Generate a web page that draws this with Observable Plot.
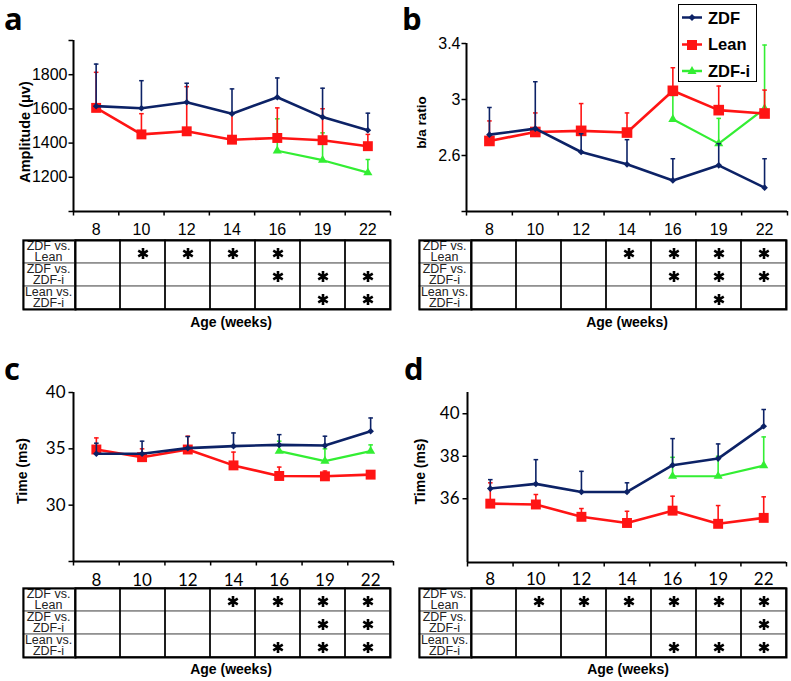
<!DOCTYPE html>
<html><head><meta charset="utf-8">
<script src="https://cdn.jsdelivr.net/npm/d3@7"></script>
<script src="https://cdn.jsdelivr.net/npm/@observablehq/plot@0.6"></script>
<style>
body{margin:0;background:#fff;}
#root{position:relative;width:791px;height:681px;overflow:hidden;background:#fff;font-family:"Liberation Sans",Arial,sans-serif;}
.abs{position:absolute;}
.letter{font-family:"Open Sans",sans-serif;font-weight:700;font-size:31px;line-height:36px;color:#000;}
.age{font-family:"Liberation Sans",Arial,sans-serif;font-weight:700;font-size:14px;color:#000;transform:translate(-50%,-50%);white-space:nowrap;}
.legend{border:1px solid #000;background:#fff;box-sizing:border-box;}
.lrow{position:absolute;left:3px;display:flex;align-items:center;font:700 16.5px "Liberation Sans",Arial,sans-serif;}
.lrow svg{margin-right:6px;}
svg{overflow:visible;}
</style>
</head><body><div id="root"></div>
<script>
// ---------- data ----------
const ages = ["8", "10", "12", "14", "16", "19", "22"];
const groups = ["ZDF", "Lean", "ZDF-i"];
const groupColors = ["#0c2266", "#ff1414", "#33ee33"];
const comparisons = ["ZDF vs.\nLean", "ZDF vs.\nZDF-i", "Lean vs.\nZDF-i"];

// panel a: amplitude (µv), mean and SD (upper error)
const aZDF = [1616, 1604, 1639, 1572, 1668, 1552, 1475];
const aZDFsd = [246, 161, 111, 145, 113, 169, 100];
const aLean = [1606, 1451, 1469, 1420, 1430, 1417, 1382];
const aLeanSd = [208, 121, 261, 152, 176, 184, 69];
const aZDFi = [null, null, null, null, 1355, 1300, 1227];
const aZDFiSd = [null, null, null, null, 187, 160, 77];
const aSig = [[0,1,1,1,1,0,0],[0,0,0,0,1,1,1],[0,0,0,0,0,1,1]];

// panel b: b/a ratio
const bZDF = [2.749, 2.792, 2.625, 2.537, 2.422, 2.530, 2.370];
const bZDFsd = [0.194, 0.335, 0.13, 0.176, 0.155, 0.155, 0.207];
const bLean = [2.704, 2.768, 2.776, 2.764, 3.062, 2.924, 2.900];
const bLeanSd = [0.143, 0.136, 0.195, 0.14, 0.165, 0.172, 0.167];
const bZDFi = [null, null, null, null, 2.859, 2.685, 2.935];
const bZDFiSd = [null, null, null, null, 0.17, 0.18, 0.454];
const bSig = [[0,0,0,1,1,1,1],[0,0,0,0,1,1,1],[0,0,0,0,0,1,0]];

// panel c: time (ms)
const cZDF = [34.56, 34.56, 35.06, 35.24, 35.35, 35.29, 36.56];
const cZDFsd = [0.94, 1.12, 1.03, 1.17, 0.91, 0.83, 1.18];
const cLean = [34.94, 34.26, 34.94, 33.53, 32.59, 32.56, 32.71];
const cLeanSd = [1.03, 0.74, 1.18, 1.18, 0.79, 0.47, 0.2];
const cZDFi = [null, null, null, null, 34.79, 33.91, 34.79];
const cZDFiSd = [null, null, null, null, 0.89, 1.09, 0.56];
const cSig = [[0,0,0,1,1,1,1],[0,0,0,0,0,1,1],[0,0,0,0,1,1,1]];

// panel d: time (ms)
const dZDF = [36.48, 36.70, 36.32, 36.32, 37.58, 37.89, 39.41];
const dZDFsd = [0.42, 1.14, 0.97, 0.43, 1.25, 0.69, 0.79];
const dLean = [35.77, 35.73, 35.15, 34.86, 35.44, 34.82, 35.10];
const dLeanSd = [0.98, 0.47, 0.39, 0.55, 0.68, 0.86, 0.99];
const dZDFi = [null, null, null, null, 37.06, 37.06, 37.56];
const dZDFiSd = [null, null, null, null, 0.89, 0.94, 1.35];
const dSig = [[0,1,1,1,1,1,1],[0,0,0,0,0,0,1],[0,0,0,0,1,1,1]];

// axis ticks
const aTicks = [1000, 1200, 1400, 1600, 1800, 2000];
const aLabeled = [1200, 1400, 1600, 1800];
const bTicks = [2.2, 2.6, 3.0, 3.4];
const bLabeled = [2.6, 3.0, 3.4];
const cTicks = [25, 30, 35, 40];
const cLabeled = [30, 35, 40];
const dTicks = [36, 38, 40];
const dLabeled = [36, 38, 40];

// ---------- helpers ----------
const root = document.getElementById("root");
function place(node, left, top) {
  node.style.position = "absolute"; node.style.left = left + "px"; node.style.top = top + "px";
  root.appendChild(node); return node;
}
function div(cls, text, left, top) {
  const d = document.createElement("div"); d.className = "abs " + cls; d.textContent = text;
  d.style.left = left + "px"; d.style.top = top + "px"; root.appendChild(d); return d;
}
const capSymbol = {draw(ctx, size) { const w = Math.sqrt(size / Math.PI); ctx.moveTo(-w, 0); ctx.lineTo(w, 0); }};
const symbols = {"ZDF": "diamond2", "Lean": "square", "ZDF-i": "triangle"};

function rowsOf(series) {
  const out = [];
  series.forEach(([g, m, s]) => m.forEach((v, i) => {
    if (v != null) out.push({group: g, age: ages[i], x: i + 0.5, mean: v, top: v + s[i]});
  }));
  return out;
}

function chart(o) {
  const rows = rowsOf(o.series);
  const fmt = v => o.labeled.some(l => Math.abs(l - v) < 1e-9) ? d3.format("~g")(v) : "";
  const marks = [];
  marks.push(Plot.ruleY([o.yDomain[0]], {stroke: "#000", strokeWidth: 2}));
  marks.push(Plot.ruleX([0], {stroke: "#000", strokeWidth: 2}));
  marks.push(Plot.axisX({ticks: d3.range(0, 8), tickFormat: () => "", tickSize: 4.5, strokeWidth: 1.5, label: null}));
  marks.push(Plot.axisX({ticks: d3.range(7).map(i => i + 0.5), tickFormat: v => ages[Math.floor(v)], tickSize: 0, tickPadding: o.xPad, label: null, fontSize: o.tickSize, fontFamily: o.tickFont}));
  marks.push(Plot.axisY({ticks: o.ticks, tickFormat: fmt, tickSize: 4.5, tickPadding: o.yPad, strokeWidth: 1.5, label: null, fontSize: o.tickSize, fontFamily: o.tickFont}));
  marks.push(Plot.text([o.yLabel], {frameAnchor: "left", rotate: -90, dx: o.labelDx, dy: o.labelDy, text: d => d, fontWeight: "bold", fontSize: o.labelSize, fontFamily: "Liberation Sans, Arial, sans-serif", textAnchor: "middle", lineAnchor: "middle"}));
  for (const g of ["ZDF-i", "Lean", "ZDF"]) {
    const d = rows.filter(r => r.group === g);
    marks.push(Plot.ruleX(d, {x: "x", y1: "mean", y2: "top", stroke: "group", strokeWidth: 1.6}));
    marks.push(Plot.dot(d, {x: "x", y: "top", symbol: capSymbol, r: 2.3, stroke: "group", fill: "none", strokeWidth: 1.5}));
    marks.push(Plot.line(d, {x: "x", y: "mean", stroke: "group", strokeWidth: g === "ZDF-i" ? 2.2 : 2.6}));
    marks.push(Plot.dot(d, {x: "x", y: "mean", symbol: symbols[g], r: g === "Lean" ? o.sqR : (g === "ZDF" ? 3 : 3.4), fill: "group", stroke: "none"}));
  }
  const p = Plot.plot({
    width: o.width, height: o.height,
    marginLeft: o.ml, marginRight: o.mr, marginTop: o.mt, marginBottom: o.mb,
    style: {background: "transparent", color: "#000", overflow: "visible"},
    x: {domain: [0, 7]},
    y: {domain: o.yDomain},
    color: {domain: groups, range: groupColors},
    marks
  });
  place(p, o.left, o.top);
}

function table(sig, left, top) {
  const labelW = 52, dataW = 315, h = 69;
  const lab = Plot.plot({
    width: labelW + 2, height: h + 2, margin: 1,
    style: {background: "transparent", overflow: "visible"},
    x: {axis: null}, y: {domain: comparisons, padding: 0, axis: null},
    marks: [
      Plot.cell(comparisons, {y: d => d, fill: "#fff", stroke: "#8a8a8a", strokeWidth: 1.5}),
      Plot.text(comparisons, {y: d => d, text: d => d, fontSize: 12.5, lineHeight: 0.86, dx: -1, fill: "#222", fontFamily: "Liberation Sans, Arial, sans-serif"}),
      Plot.frame({stroke: "#000", strokeWidth: 2})
    ]
  });
  place(lab, left - 1, top - 1);
  const cells = [];
  sig.forEach((row, r) => row.forEach((v, i) => { if (v) cells.push({age: ages[i], comp: comparisons[r]}); }));
  const dat = Plot.plot({
    width: dataW + 2, height: h + 2, margin: 1,
    style: {background: "transparent", overflow: "visible"},
    x: {domain: ages, padding: 0, axis: null}, y: {domain: comparisons, padding: 0, axis: null},
    marks: [
      Plot.cell(comparisons, {y: d => d, fill: "#fff", stroke: "#8a8a8a", strokeWidth: 1.5}),
      Plot.cell(ages, {x: d => d, fill: "none", stroke: "#000", strokeWidth: 1.3}),
      Plot.dot(cells, {x: "age", y: "comp", symbol: "asterisk", r: 5.2, dy: 1.5, stroke: "#000", strokeWidth: 2.6, fill: "none"}),
      Plot.frame({stroke: "#000", strokeWidth: 2})
    ]
  });
  place(dat, left + labelW - 1, top - 1);
}

// ---------- panels ----------
const arialTick = "Liberation Sans, Arial, sans-serif";
const calTick = "Lato, Carlito, sans-serif";

chart({left: 0, top: 0, width: 395, height: 236, ml: 73, mr: 5, mt: 40, mb: 25,
  yDomain: [1000, 2000], ticks: aTicks, labeled: aLabeled, yPad: 1.5, xPad: 12,
  tickSize: 16, tickFont: arialTick, yLabel: "Amplitude (μv)", labelSize: 14.5, labelDx: -48.5, labelDy: 6, sqR: 5.6,
  series: [["ZDF", aZDF, aZDFsd], ["Lean", aLean, aLeanSd], ["ZDF-i", aZDFi, aZDFiSd]]});
chart({left: 395, top: 0, width: 396, height: 236, ml: 71, mr: 4, mt: 43, mb: 25,
  yDomain: [2.2, 3.4], ticks: bTicks, labeled: bLabeled, yPad: 1.5, xPad: 12,
  tickSize: 16, tickFont: arialTick, yLabel: "b/a ratio", labelSize: 13.5, labelDx: -45, labelDy: -5, sqR: 6,
  series: [["ZDF", bZDF, bZDFsd], ["Lean", bLean, bLeanSd], ["ZDF-i", bZDFi, bZDFiSd]]});
chart({left: 0, top: 340, width: 395, height: 246, ml: 73, mr: 2, mt: 52, mb: 25,
  yDomain: [25, 40], ticks: cTicks, labeled: cLabeled, yPad: 3.5, xPad: 12,
  tickSize: 17, tickFont: calTick, yLabel: "Time (ms)", labelSize: 14, labelDx: -50.5, labelDy: -6, sqR: 5.6,
  series: [["ZDF", cZDF, cZDFsd], ["Lean", cLean, cLeanSd], ["ZDF-i", cZDFi, cZDFiSd]]});
chart({left: 395, top: 340, width: 396, height: 247, ml: 72, mr: 5, mt: 52, mb: 25,
  yDomain: [33, 41], ticks: dTicks, labeled: dLabeled, yPad: 3.5, xPad: 10,
  tickSize: 17, tickFont: calTick, yLabel: "Time (ms)", labelSize: 14, labelDx: -46.5, labelDy: -6, sqR: 5.6,
  series: [["ZDF", dZDF, dZDFsd], ["Lean", dLean, dLeanSd], ["ZDF-i", dZDFi, dZDFiSd]]});

table(aSig, 23, 240);
table(bSig, 419, 240);
table(cSig, 23, 588);
table(dSig, 419, 588);

div("letter", "a", 4, 0);
div("letter", "b", 402, 0);
div("letter", "c", 4, 350);
div("letter", "d", 404, 350);

div("age", "Age (weeks)", 231, 322);
div("age", "Age (weeks)", 627, 322);
div("age", "Age (weeks)", 231, 669);
div("age", "Age (weeks)", 628, 669);

// legend
const leg = document.createElement("div");
leg.className = "legend";
leg.style.width = "79px"; leg.style.height = "78px";
place(leg, 678, 4);
groups.forEach((g, i) => {
  const r = document.createElement("div");
  r.className = "lrow"; r.style.top = (3 + i * 26.5) + "px"; r.style.height = "20px";
  const c = groupColors[i];
  let m;
  if (g === "ZDF") m = `<path d="M10,6 L13.5,9.5 L10,13 L6.5,9.5Z" fill="${c}"/>`;
  else if (g === "Lean") m = `<rect x="5" y="5" width="10" height="10" fill="${c}"/>`;
  else m = `<path d="M10,5 L14.5,13 L5.5,13Z" fill="${c}"/>`;
  r.innerHTML = `<svg width="20" height="20"><line x1="0" x2="20" y1="${g==='ZDF-i'?10:9.5}" y2="${g==='ZDF-i'?10:9.5}" stroke="${c}" stroke-width="2.5"/>${m}</svg><span>${g}</span>`;
  leg.appendChild(r);
});
</script>
</body></html>
